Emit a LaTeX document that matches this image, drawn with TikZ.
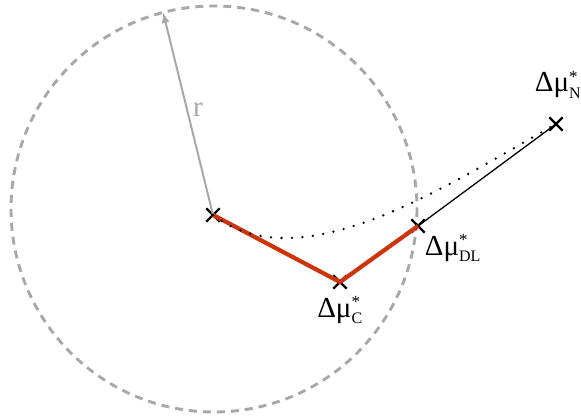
\documentclass[tikz,border=0pt]{standalone}
\usepackage{fontspec}
\setmainfont{Liberation Serif}
\usetikzlibrary{arrows.meta,positioning,shapes.misc}
\definecolor{voros}{RGB}{205,52,10}
\definecolor{szurke}{RGB}{168,168,168}
\newcommand{\dmu}[1]{Δμ$^{\textrm{\fontsize{17}{17}\selectfont *}}_{\textrm{\fontsize{16}{16}\selectfont #1}}$}
\tikzset{
  xjel/.style={cross out,draw,line width=2.3pt,minimum size=11pt,inner sep=0pt},
  kor/.style={szurke,line width=2.9pt,dash pattern=on 8pt off 6pt},
  sugar/.style={szurke,line width=2pt,-{Latex[length=11pt,width=8pt]}},
  piros/.style={voros,line width=4.2pt},
  vekony/.style={line width=1.3pt},
  pontozott/.style={line width=2.6pt,line cap=round,dash pattern=on 0pt off 10.5pt},
  cimke/.style={inner sep=0pt,font=\fontsize{29}{33}\selectfont},
}
\begin{document}
\begin{tikzpicture}[x=1pt,y=-1pt]
  \useasboundingbox (0,0) rectangle (581,419);
  % kor es sugar
  \draw[kor] (214,209) circle[radius=203];
  \node[xjel] (o) at (213,215) {};
  \node[xjel] (c) at (340,282) {};
  \node[xjel] (dl) at (418,226) {};
  \node[xjel] (n) at (556,124) {};
  \coordinate (rv) at (163,12);
  \draw[sugar] (o.center) -- node[cimke,szurke,pos=.52,right=5pt] (r) {r} (rv);
  % utak
  \draw[piros] (o.center) -- (c.center) -- (dl.center);
  \draw[pontozott] (o.center) .. controls (300,282) and (443,188) .. (n.center);
  \draw[vekony] (dl.center) -- (n.center);
  % feliratok
  \node[cimke,above=19pt of n,xshift=2pt] (nl) {\dmu{N}};
  \node[cimke,below right=2pt and 0pt of dl] (dll) {\dmu{DL}};
  \node[cimke,below=8pt of c] (cl) {\dmu{C}};
\end{tikzpicture}
\end{document}
